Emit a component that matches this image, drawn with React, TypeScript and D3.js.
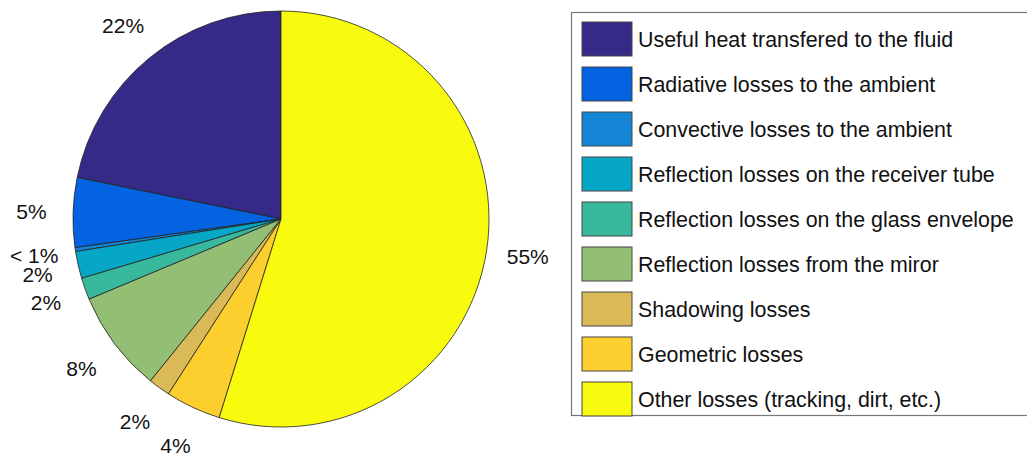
import React from "react";
import * as d3 from "d3";

// Energy balance of the collector, in percent of incident solar energy
const categories = [
  "Useful heat transfered to the fluid",
  "Radiative losses to the ambient",
  "Convective losses to the ambient",
  "Reflection losses on the receiver tube",
  "Reflection losses on the glass envelope",
  "Reflection losses from the miror",
  "Shadowing losses",
  "Geometric losses",
  "Other losses (tracking, dirt, etc.)",
];
const values = [21.8, 5.4, 0.3, 2.1, 1.7, 7.9, 1.7, 4.3, 54.8];
// parula colormap, 9 levels
const colors = [
  "#352a87",
  "#0363e1",
  "#1485d4",
  "#06a7c6",
  "#38b99e",
  "#92bf73",
  "#d9ba56",
  "#fcce2e",
  "#f9fb0e",
];

const W = 1027;
const H = 457;
const cx = 281;
const cy = 219;
const R = 208;
const FONT = "'Liberation Sans', Arial, Helvetica, sans-serif";

function pctLabel(v: number): string {
  const total = d3.sum(values);
  const p = (v / total) * 100;
  return p < 1 ? "< 1%" : `${Math.round(p)}%`;
}

export default function App() {
  // slices run counterclockwise from 12 o'clock
  const pie = d3
    .pie<number>()
    .sort(null)
    .startAngle(0)
    .endAngle(-2 * Math.PI);
  const arcs = pie(values);
  const arc = d3.arc<d3.PieArcDatum<number>>().innerRadius(0).outerRadius(R);
  const labelArc = d3
    .arc<d3.PieArcDatum<number>>()
    .innerRadius(R * 1.2)
    .outerRadius(R * 1.2);

  const legendX = 571;
  const legendY = 12;
  const legendH = 415;
  const rowStep = 45;
  const firstRow = 39;
  const sw = 50;
  const sh = 34;

  return (
    <svg
      width={W}
      height={H}
      style={{ position: "absolute", left: 0, top: 0, background: "#fff" }}
    >
      <g transform={`translate(${cx},${cy})`}>
        {arcs.map((a, i) => (
          <path
            key={i}
            d={arc(a) || ""}
            fill={colors[i]}
            stroke="#222"
            strokeWidth={0.8}
            strokeLinejoin="round"
          />
        ))}
        {arcs.map((a, i) => {
          const [x, y] = labelArc.centroid(a);
          return (
            <text
              key={i}
              x={x}
              y={y}
              textAnchor="middle"
              dominantBaseline="central"
              fontFamily={FONT}
              fontSize={21}
              fill="#111"
            >
              {pctLabel(values[i])}
            </text>
          );
        })}
      </g>
      <rect
        x={legendX + 0.5}
        y={legendY + 0.5}
        width={W + 20 - legendX}
        height={legendH - legendY}
        fill="#fff"
        stroke="#777"
        strokeWidth={1.2}
      />
      {categories.map((c, i) => {
        const yc = firstRow + i * rowStep;
        return (
          <g key={c}>
            <rect
              x={582}
              y={yc - sh / 2}
              width={sw}
              height={sh}
              fill={colors[i]}
              stroke="#444"
              strokeWidth={1}
            />
            <text
              x={638}
              y={yc + 1}
              dominantBaseline="central"
              fontFamily={FONT}
              fontSize={21.4}
              fill="#111"
            >
              {c}
            </text>
          </g>
        );
      })}
    </svg>
  );
}
